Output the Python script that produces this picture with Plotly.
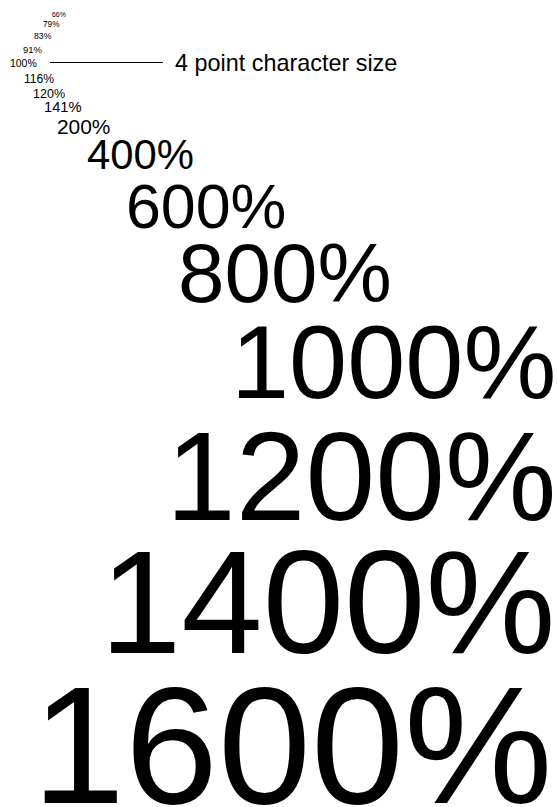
import plotly.graph_objects as go

# Data: labels and relative character sizes (percent)
labels = ["66%", "79%", "83%", "91%", "100%", "116%", "120%", "141%", "200%",
          "400%", "600%", "800%", "1000%", "1200%", "1400%", "1600%"]
percents = [66, 79, 83, 91, 100, 116, 120, 141, 200, 400, 600, 800, 1000, 1200, 1400, 1600]
reference_label = "4 point character size"

# Layout: centres of each label (page pixel units on hidden axes)
x_centers = [58.7, 51.7, 43, 32.5, 23.8, 39, 49, 62.7, 83.7, 140.6, 205.9, 285.4,
             393, 360.7, 328.4, 292.3]
y_centers = [14.7, 24.3, 35.7, 49, 63.3, 79, 93.7, 107.3, 126, 154, 206, 273,
             361.7, 476, 602, 745]
BASE_PX = 10.45
W, H = 557, 807
FONT = "Liberation Sans, Arial, sans-serif"

fig = go.Figure()
fig.add_trace(go.Scatter(x=[0, W], y=[0, H], mode="markers",
                         marker=dict(opacity=0), hoverinfo="skip", showlegend=False))

annotations = []
for lab, p, xc, yc in zip(labels, percents, x_centers, y_centers):
    annotations.append(dict(
        x=xc, y=yc, xref="x", yref="y", text=lab, showarrow=False,
        xanchor="center", yanchor="middle", borderpad=0,
        font=dict(family=FONT, size=BASE_PX * p / 100, color="black")))

annotations.append(dict(
    x=174, y=63, xref="x", yref="y", text=reference_label, showarrow=False,
    xanchor="left", yanchor="middle", borderpad=0,
    font=dict(family=FONT, size=23.4, color="black")))

fig.update_layout(
    width=W, height=H,
    margin=dict(l=0, r=0, t=0, b=0),
    paper_bgcolor="white", plot_bgcolor="white",
    xaxis=dict(range=[0, W], visible=False, fixedrange=True),
    yaxis=dict(range=[H, 0], visible=False, fixedrange=True),
    annotations=annotations,
    shapes=[dict(type="line", xref="x", yref="y", x0=50, x1=163, y0=62.5, y1=62.5,
                 line=dict(color="black", width=1))],
    showlegend=False,
)

fig.write_html("out.html", config={"displayModeBar": False},
               post_script="document.body.style.margin='0';document.body.style.overflow='hidden';")
